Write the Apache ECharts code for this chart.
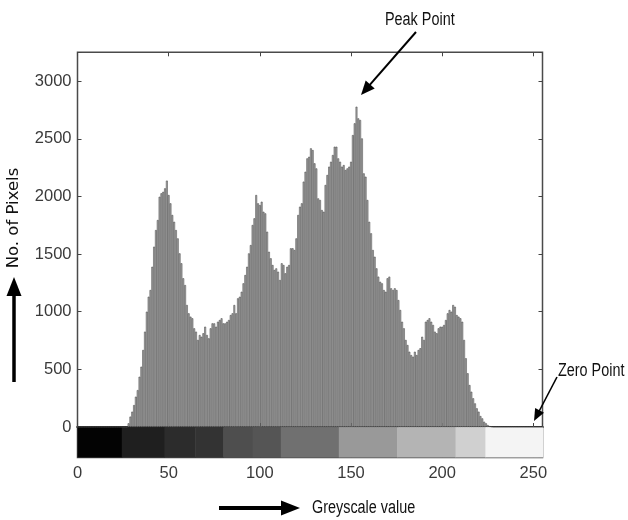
<!DOCTYPE html>
<html>
<head>
<meta charset="utf-8">
<script src="https://cdn.jsdelivr.net/npm/echarts@6/dist/echarts.min.js"></script>
<style>
html,body{margin:0;padding:0;background:#fff;}
#main{width:628px;height:520px;}
</style>
</head>
<body>
<div id="main"></div>
<script>
// ---- data ----
// pixel counts for greyscale values 0..255
var counts = [
  0,0,0,0,0,0,0,0,0,0, 0,0,0,0,0,0,0,0,0,0, 0,0,0,0,0,0,0,0,
  32,90,133,190,263,320,436,523,668,827,1000,1130,1188,1390,1564,1708,1795,1997,2027,2040,
  2070,2137,2012,1940,1839,1780,1708,1636,1506,1420,1290,1231,1058,986,957,943,856,827,755,798,
  783,813,870,798,769,856,899,899,870,913,928,943,899,899,913,928,971,986,1058,986,
  1116,1130,1173,1246,1318,1390,1506,1578,1752,1810,2012,1940,1925,1954,1867,1853,1694,1520,1463,1405,
  1362,1376,1347,1275,1420,1405,1333,1390,1405,1550,1550,1535,1636,1839,1911,1940,2128,2214,2330,2344,
  2417,2402,2287,2243,1983,1969,1882,1867,2099,2186,2258,2301,2359,2431,2431,2330,2301,2258,2272,2229,
  2243,2258,2301,2532,2634,2778,2677,2663,2503,2200,2171,1969,1780,1680,1535,1477,1376,1304,1260,1246,
  1188,1173,1290,1304,1203,1188,1203,1188,1101,1015,913,856,755,711,653,624,610,653,624,668,
  683,783,755,913,928,943,913,885,827,813,856,870,870,885,928,986,1015,1000,1058,1043,
  971,957,943,913,755,596,466,364,306,249,205,162,133,95,75,46,32,17,8,3,
  0,0,0,0,0,0,0,0,0,0, 0,0,0,0,0,0,0,0,0,0, 0,0,0,0,0,0,0,0
];
var yTicks = [0, 500, 1000, 1500, 2000, 2500, 3000];
var xTicks = [0, 50, 100, 150, 200, 250];
// greyscale strip under the histogram: segment edges (grey value) and shade
var stripEdges = [0, 24.3, 47.7, 64.5, 80, 96, 111.5, 143.3, 175.3, 207.3, 223.7, 255];
var stripShades = ['#030303', '#1f1f1f', '#2c2c2c', '#333333', '#4e4e4e', '#555555', '#707070', '#999999', '#b4b4b4', '#d0d0d0', '#f4f4f4'];
var titleX = 'Greyscale value';
var titleY = 'No. of Pixels';
var notePeak = 'Peak Point';
var noteZero = 'Zero Point';

var SANS = "'Liberation Sans', Arial, sans-serif";

var histData = counts.map(function (v, i) { return [i, v]; });
var stripData = stripShades.map(function (c, i) { return [stripEdges[i], stripEdges[i + 1], i]; });

var chart = echarts.init(document.getElementById('main'), null, {renderer: 'canvas'});

function arrow(x1, y1, x2, y2, lw, hl, hw) {
  var dx = x2 - x1, dy = y2 - y1, L = Math.sqrt(dx * dx + dy * dy);
  var ux = dx / L, uy = dy / L, nx = -uy, ny = ux;
  var bx = x2 - ux * hl, by = y2 - uy * hl;
  return [
    {type: 'line', shape: {x1: x1, y1: y1, x2: bx + ux * 1, y2: by + uy * 1}, style: {stroke: '#000', lineWidth: lw}, silent: true},
    {type: 'polygon', shape: {points: [[x2, y2], [bx + nx * hw, by + ny * hw], [bx - nx * hw, by - ny * hw]]}, style: {fill: '#000'}, silent: true}
  ];
}
function narrowText(str, x, y) {
  return {type: 'text', x: x, y: y, scaleX: 0.8, silent: true,
          style: {text: str, font: '18px ' + SANS, fill: '#111', align: 'left', verticalAlign: 'middle'}};
}

var tickStyle = {show: true, inside: true, length: 4, lineStyle: {color: '#444', width: 1}};
var hiddenLabel = {show: false};
var noLine = {show: false, onZero: false};
var labelFont = {color: '#3a3a3a', fontSize: 16.5, fontFamily: SANS};

var graphics = [].concat(
  arrow(416, 32, 361, 95, 2, 14, 6),
  arrow(557, 377, 534, 421, 1.6, 12, 5),
  arrow(14, 382, 14, 277, 3.5, 19, 7.5),
  arrow(219, 508, 300, 508, 4, 19, 7.5),
  [
    narrowText(notePeak, 385, 20),
    narrowText(noteZero, 558, 371),
    narrowText(titleX, 312, 508),
    {type: 'text', x: 14, y: 218, rotation: Math.PI / 2, silent: true,
     style: {text: titleY, font: "16.5px 'DejaVu Sans', sans-serif", fill: '#111', align: 'center', verticalAlign: 'middle'}}
  ]
);

var option = {
  animation: false,
  backgroundColor: '#fff',
  grid: [
    {left: 77.5, top: 52.3, width: 465, height: 374.7, show: true, borderColor: '#4a4a4a', borderWidth: 1.5, backgroundColor: 'transparent'},
    {left: 77.5, top: 427, width: 465, height: 30.5, show: true, borderColor: '#4a4a4a', borderWidth: 1.5, backgroundColor: 'transparent'}
  ],
  xAxis: [
    {type: 'value', gridIndex: 0, position: 'bottom', min: 0, max: 255, interval: 50,
     axisLine: {show: true, onZero: false, lineStyle: {color: '#222', width: 2.2}}, axisTick: tickStyle, axisLabel: hiddenLabel, splitLine: {show: false}},
    {type: 'value', gridIndex: 0, position: 'top', min: 0, max: 255, interval: 50,
     axisLine: noLine, axisTick: tickStyle, axisLabel: hiddenLabel, splitLine: {show: false}},
    {type: 'value', gridIndex: 1, position: 'bottom', min: 0, max: 255, interval: 50,
     axisLine: noLine, axisTick: tickStyle, splitLine: {show: false},
     axisLabel: Object.assign({show: true, margin: 7,
       formatter: function (v) { return xTicks.indexOf(v) >= 0 ? String(v) : ''; }}, labelFont)},
    {type: 'value', gridIndex: 1, position: 'top', min: 0, max: 255, interval: 50,
     axisLine: noLine, axisTick: tickStyle, axisLabel: hiddenLabel, splitLine: {show: false}}
  ],
  yAxis: [
    {type: 'value', gridIndex: 0, position: 'left', min: 0, max: 3250, interval: 500,
     axisLine: noLine, axisTick: tickStyle, splitLine: {show: false},
     axisLabel: Object.assign({show: true, margin: 6,
       formatter: function (v) { return yTicks.indexOf(v) >= 0 ? String(v) : ''; }}, labelFont)},
    {type: 'value', gridIndex: 0, position: 'right', min: 0, max: 3250, interval: 500,
     axisLine: noLine, axisTick: tickStyle, axisLabel: hiddenLabel, splitLine: {show: false}},
    {type: 'value', gridIndex: 1, position: 'left', min: 0, max: 1, show: false,
     axisLine: noLine, axisTick: {show: false}, axisLabel: hiddenLabel, splitLine: {show: false}},
    {type: 'value', gridIndex: 1, position: 'right', min: 0, max: 1, interval: 0.5,
     axisLine: noLine, axisTick: tickStyle, axisLabel: hiddenLabel, splitLine: {show: false}}
  ],
  series: [
    {type: 'custom', xAxisIndex: 2, yAxisIndex: 2, data: stripData, silent: true, z: 1,
     renderItem: function (params, api) {
       var p0 = api.coord([api.value(0), 1]);
       var p1 = api.coord([api.value(1), 0]);
       return {type: 'rect', shape: {x: p0[0], y: p0[1], width: p1[0] - p0[0] + 0.5, height: p1[1] - p0[1]},
               style: {fill: stripShades[api.value(2)]}};
     }},
    {type: 'bar', xAxisIndex: 0, yAxisIndex: 0, data: histData, barWidth: 1.82, silent: true,
     itemStyle: {color: '#adadad', borderColor: '#4a4a4a', borderWidth: 0.55}}
  ],
  graphic: graphics
};
chart.setOption(option);
</script>
</body>
</html>
